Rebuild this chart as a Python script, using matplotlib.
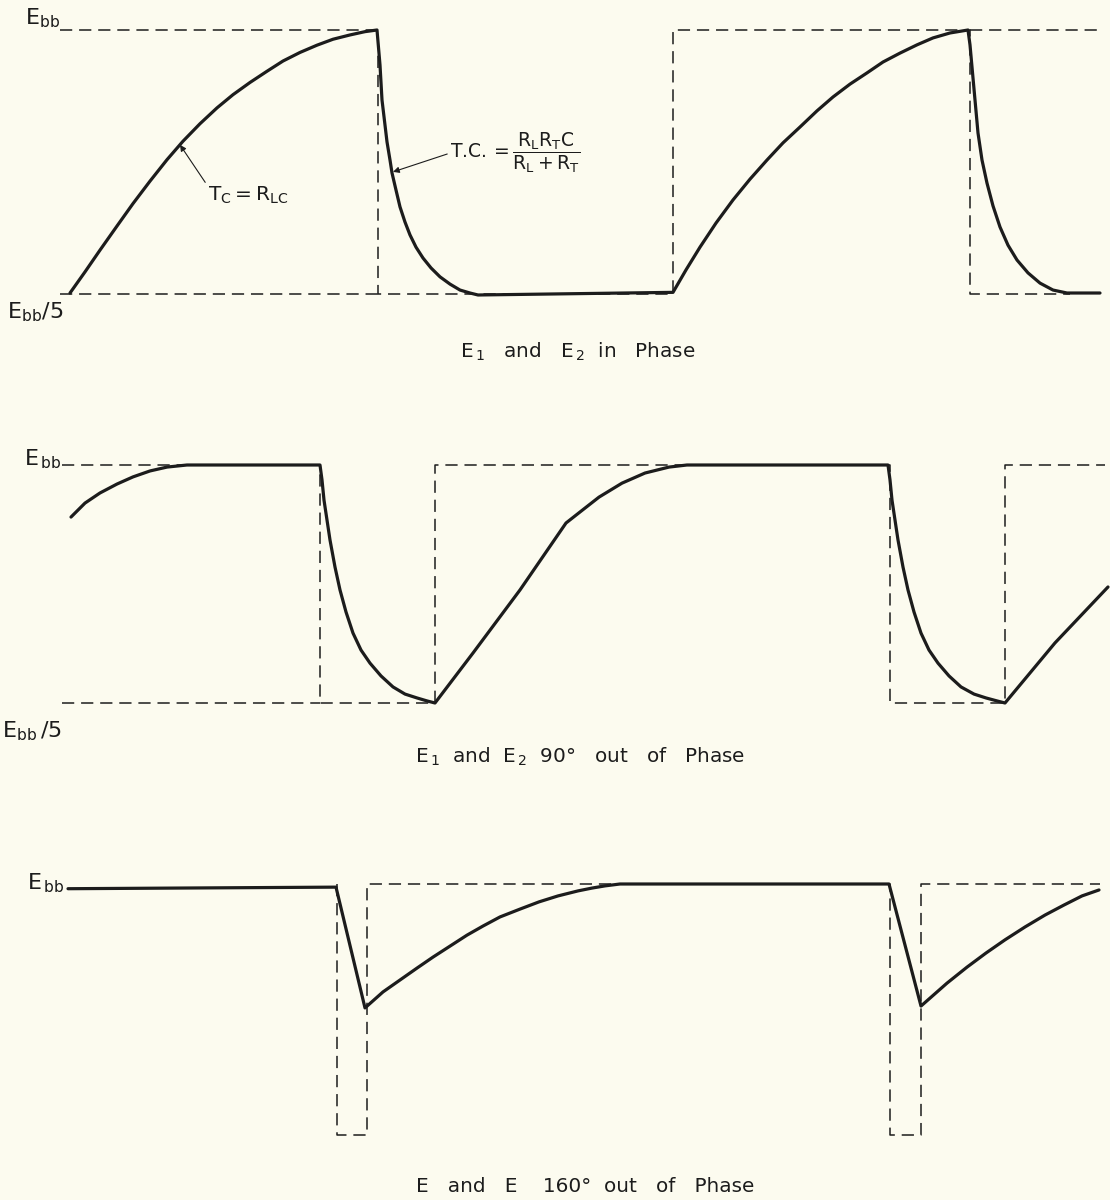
import matplotlib

matplotlib.use("Agg")
import matplotlib.pyplot as plt

# time axis in arbitrary units (0..111), voltage normalised so E_bb = 1.0, E_bb/5 = 0.2
EBB = 1.0
EBB5 = 0.2

# ---- E1 and E2 in phase ----------------------------------------------------
p1_t = [7.0, 8.5, 10.0, 11.7, 13.3, 15.0, 16.7, 18.3, 20.0, 21.7, 23.3, 25.0, 26.7,
        28.3, 30.0, 31.7, 33.3, 35.0, 36.5, 37.7,
        38.0, 38.2, 38.5, 38.7, 39.0, 39.2, 39.6, 40.0, 40.5, 41.0, 41.6, 42.3, 43.1,
        44.0, 45.0, 46.0, 47.0, 47.8, 67.3,
        68.6, 70.0, 71.6, 73.3, 75.0, 76.7, 78.3, 80.0, 81.7, 83.3, 85.0, 86.7, 88.3,
        90.0, 91.7, 93.3, 95.0, 96.8,
        97.0, 97.2, 97.5, 97.8, 98.2, 98.7, 99.3, 100.0, 100.8, 101.7, 102.8, 104.0,
        105.3, 106.7, 110.0]
p1_v = [0.203, 0.267, 0.333, 0.406, 0.474, 0.542, 0.607, 0.663, 0.716, 0.764, 0.804,
        0.841, 0.875, 0.906, 0.932, 0.954, 0.972, 0.985, 0.995, 1.0,
        0.894, 0.788, 0.712, 0.661, 0.606, 0.567, 0.515, 0.464, 0.418, 0.379, 0.342,
        0.309, 0.279, 0.252, 0.230, 0.212, 0.203, 0.197, 0.205,
        0.273, 0.342, 0.415, 0.485, 0.548, 0.606, 0.658, 0.706, 0.755, 0.797, 0.836,
        0.870, 0.903, 0.930, 0.955, 0.976, 0.991, 1.0,
        0.955, 0.888, 0.788, 0.688, 0.606, 0.536, 0.467, 0.403, 0.348, 0.303, 0.264,
        0.233, 0.212, 0.203, 0.203]
p1_sq_t = [6.0, 37.8, 37.8, 67.3, 67.3, 97.0, 97.0, 107.0]
p1_sq_v = [EBB, EBB, EBB5, EBB5, EBB, EBB, EBB5, EBB5]
p1_ref = [(6.0, 37.8, EBB5), (97.0, 110.0, EBB)]

# ---- E1 and E2 90 deg out of phase -------------------------------------------
p2_t = [7.1, 8.5, 10.0, 11.7, 13.3, 15.0, 16.7, 18.7, 32.0,
        32.2, 32.4, 32.7, 33.0, 33.5, 34.0, 34.6, 35.3, 36.1, 37.0, 38.1, 39.3, 40.5,
        41.7, 42.7, 43.5,
        47.3, 52.0, 56.6, 58.0, 59.9, 62.2, 64.5, 66.9, 68.7, 88.8,
        89.0, 89.2, 89.5, 89.8, 90.3, 90.8, 91.4, 92.1, 92.9, 93.8, 94.9, 96.1, 97.4,
        98.6, 99.7, 100.5,
        105.5, 110.8]
p2_v = [0.825, 0.872, 0.906, 0.936, 0.960, 0.980, 0.993, 1.0, 1.0,
        0.950, 0.882, 0.815, 0.748, 0.657, 0.580, 0.506, 0.435, 0.378, 0.334, 0.291,
        0.254, 0.230, 0.217, 0.207, 0.2,
        0.368, 0.580, 0.805, 0.842, 0.892, 0.939, 0.973, 0.993, 1.0, 1.0,
        0.950, 0.882, 0.815, 0.748, 0.657, 0.580, 0.506, 0.435, 0.378, 0.334, 0.291,
        0.254, 0.230, 0.217, 0.207, 0.2,
        0.402, 0.590]
p2_sq_t = [6.2, 32.0, 32.0, 43.5, 43.5, 89.0, 89.0, 100.5, 100.5, 110.5]
p2_sq_v = [EBB, EBB, EBB5, EBB5, EBB, EBB, EBB5, EBB5, EBB, EBB]
p2_ref = [(6.2, 32.0, EBB5)]

# ---- E and E 160 deg out of phase --------------------------------------------
p3_t = [6.8, 33.6,
        36.5, 38.3, 40.0, 41.7, 43.3, 45.0, 46.7, 48.3, 50.0, 52.0, 53.9, 55.8, 57.8,
        59.2, 60.5, 62.0, 88.9,
        92.1, 94.7, 96.7, 98.6, 100.5, 102.5, 104.5, 106.4, 108.2, 109.9]
p3_v = [0.985, 0.99,
        0.605, 0.656, 0.694, 0.732, 0.767, 0.802, 0.837, 0.866, 0.895, 0.920, 0.943,
        0.962, 0.978, 0.987, 0.994, 1.0, 1.0,
        0.611, 0.684, 0.735, 0.780, 0.822, 0.863, 0.901, 0.933, 0.962, 0.981]
p3_sq_t = [33.7, 33.7, 36.7, 36.7, 89.0, 89.0, 92.1, 92.1, 110.0]
p3_sq_v = [EBB, EBB5, EBB5, EBB, EBB, EBB5, EBB5, EBB, EBB]

captions = [r"$E_{\,1}$   and   $E_{\,2}$  in   Phase",
            r"$E_{\,1}$  and  $E_{\,2}$  90°   out   of   Phase",
            "E   and   E    160°  out   of   Phase"]

BG = "#fcfbef"
INK = "#1c1c1c"
DASH = dict(color=INK, lw=1.1, linestyle=(0, (8, 4.5)))
SOLID = dict(color=INK, lw=2.3, solid_joinstyle="round", solid_capstyle="round")

plt.rcParams["font.family"] = ["DejaVu Sans"]
plt.rcParams["mathtext.default"] = "regular"

W, H = 1110, 1200
fig = plt.figure(figsize=(W / 100, H / 100), dpi=100, facecolor=BG)


def panel(top_px, bot_px, ebb_px, ebb5_px):
    """axes on rows top_px..bot_px with E_bb at ebb_px and E_bb/5 at ebb5_px"""
    scale = (ebb5_px - ebb_px) / (EBB - EBB5)
    ax = fig.add_axes([0, 1 - bot_px / H, 1, (bot_px - top_px) / H])
    ax.set_xlim(0, W / 10)
    ax.set_ylim(EBB5 - (bot_px - ebb5_px) / scale, EBB + (ebb_px - top_px) / scale)
    ax.set_axis_off()
    ax.patch.set_alpha(0)
    return ax


ax1 = panel(0, 400, 30, 294)
ax2 = panel(400, 820, 465, 703)
ax3 = panel(820, 1200, 884, 1135)

for ax, (t, v), (st, sv) in [(ax1, (p1_t, p1_v), (p1_sq_t, p1_sq_v)),
                            (ax2, (p2_t, p2_v), (p2_sq_t, p2_sq_v)),
                            (ax3, (p3_t, p3_v), (p3_sq_t, p3_sq_v))]:
    ax.plot(st, sv, **DASH)
    ax.plot(t, v, **SOLID)

for x0, x1, y in p1_ref:
    ax1.plot([x0, x1], [y, y], **DASH)
for x0, x1, y in p2_ref:
    ax2.plot([x0, x1], [y, y], **DASH)

# level labels
lab = dict(color=INK, fontsize=16)
ax1.text(6.0, 1.0, r"$E_{bb}$", ha="right", va="bottom", **lab)
ax1.text(0.7, 0.18, r"$E_{bb}/5$", ha="left", va="top", **lab)
ax2.text(6.2, 0.98, r"$E_{\,bb}$", ha="right", va="bottom", **lab)
ax2.text(0.2, 0.145, r"$E_{bb}\,/5$", ha="left", va="top", **lab)
ax3.text(6.5, 0.965, r"$E_{\,bb}$", ha="right", va="bottom", **lab)

# time-constant call-outs
arrow = dict(arrowstyle="-|>", lw=0.8, color=INK, mutation_scale=9, shrinkA=0, shrinkB=0)
ax1.annotate(r"$T_C = R_{LC}$", xy=(18.0, 0.652), xytext=(20.8, 0.50),
             ha="left", va="center", fontsize=14.5, color=INK,
             arrowprops=dict(relpos=(0.0, 0.9), **arrow))
ax1.annotate(r"T.C.$\,=\dfrac{R_L R_T C}{R_L + R_T}$", xy=(39.3, 0.570), xytext=(45.0, 0.627),
             ha="left", va="center", fontsize=13.5, color=INK,
             arrowprops=dict(relpos=(0.0, 0.5), **arrow))

# panel captions
for (cx, cy), text in zip([(578, 352), (580, 757), (585, 1186)], captions):
    fig.text(cx / W, 1 - cy / H, text, ha="center", va="center", fontsize=14.4, color=INK)

fig.savefig("out.png", dpi=100, facecolor=BG)
